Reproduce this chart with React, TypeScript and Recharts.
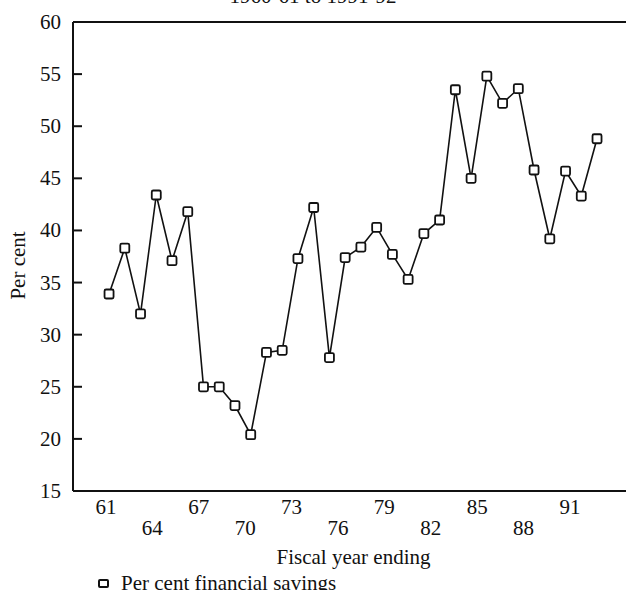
import { LineChart, Line, XAxis, YAxis, Legend, ReferenceLine } from 'recharts';

// fiscal years ending 1961..1992
const years = [
  61, 62, 63, 64, 65, 66, 67, 68, 69, 70, 71, 72, 73, 74, 75, 76,
  77, 78, 79, 80, 81, 82, 83, 84, 85, 86, 87, 88, 89, 90, 91, 92,
];
const savings = [
  33.9, 38.3, 32.0, 43.4, 37.1, 41.8, 25.0, 25.0, 23.2, 20.4, 28.3, 28.5, 37.3, 42.2, 27.8, 37.4,
  38.4, 40.3, 37.7, 35.3, 39.7, 41.0, 53.5, 45.0, 54.8, 52.2, 53.6, 45.8, 39.2, 45.7, 43.3, 48.8,
];
const yTicks = [15, 20, 25, 30, 35, 40, 45, 50, 55, 60];
const xLabelTicks = [61, 64, 67, 70, 73, 76, 79, 82, 85, 88, 91];

const seriesName = 'Per cent financial savings';
const xTitle = 'Fiscal year ending';
const yTitle = 'Per cent';
const chartTitle = '1960-61 to 1991-92';

const data = years.map((year, i) => ({ year, savings: savings[i] }));

const FONT = '"Liberation Serif", "Times New Roman", serif';
const FS = 21;
const INK = '#111';

function YTick({ x, y, payload }: any) {
  return (
    <g>
      <line x1={x + 12} x2={x + 21} y1={y} y2={y} stroke={INK} strokeWidth={2} />
      <text x={x} y={y} textAnchor="end" dominantBaseline="central" fontSize={FS} fontFamily={FONT} fill={INK}>
        {payload.value}
      </text>
    </g>
  );
}

function XTick({ x, y, payload }: any) {
  const row = xLabelTicks.indexOf(payload.value) % 2;
  return (
    <text x={x} y={y + 16 + row * 21} textAnchor="middle" dominantBaseline="central" fontSize={FS} fontFamily={FONT} fill={INK}>
      {payload.value}
    </text>
  );
}

function XTitle({ viewBox }: any) {
  return (
    <text x={viewBox.x + viewBox.width / 2 - 3} y={viewBox.y + 66} textAnchor="middle" dominantBaseline="central" fontSize={FS} fontFamily={FONT} fill={INK}>
      {xTitle}
    </text>
  );
}

function YTitle({ viewBox }: any) {
  const cx = viewBox.x + 18;
  const cy = viewBox.y + viewBox.height / 2 + 9;
  return (
    <text x={cx} y={cy} transform={`rotate(-90 ${cx} ${cy})`} textAnchor="middle" dominantBaseline="central" fontSize={FS} fontFamily={FONT} fill={INK}>
      {yTitle}
    </text>
  );
}

function SquareDot({ cx, cy, index }: any) {
  return <rect key={index} x={cx - 4.5} y={cy - 4.5} width={9} height={9} rx={1.5} fill="#fff" stroke={INK} strokeWidth={1.8} />;
}

function LegendBox() {
  return (
    <div style={{ display: 'flex', alignItems: 'center', fontFamily: FONT, fontSize: FS, color: INK, whiteSpace: 'nowrap' }}>
      <span style={{ display: 'inline-block', width: 7, height: 5, border: `2px solid ${INK}`, borderRadius: 2, marginRight: 12 }} />
      {seriesName}
    </div>
  );
}

export default function App() {
  return (
    <div style={{ position: 'absolute', left: 0, top: 0, width: 626, height: 590, overflow: 'hidden', background: '#fff' }}>
      <LineChart width={640} height={590} data={data} margin={{ top: 22, right: 0, bottom: 0, left: 0 }}>
        <text x={313} y={3} textAnchor="middle" fontSize={FS} fontFamily={FONT} fill={INK}>
          {chartTitle}
        </text>
        <XAxis xAxisId="data" dataKey="year" type="number" domain={[58.71, 94.73]} allowDataOverflow height={0} hide />
        <XAxis
          xAxisId="lab"
          dataKey="year"
          type="number"
          domain={[58.87, 95.53]}
          allowDataOverflow
          ticks={xLabelTicks}
          interval={0}
          tick={<XTick />}
          tickLine={false}
          tickSize={0}
          tickMargin={0}
          height={79}
          axisLine={{ stroke: INK, strokeWidth: 2 }}
          label={<XTitle />}
        />
        <YAxis
          domain={[15, 60]}
          ticks={yTicks}
          interval={0}
          width={73}
          tick={<YTick />}
          tickLine={false}
          tickSize={0}
          tickMargin={12}
          axisLine={{ stroke: INK, strokeWidth: 2 }}
          label={<YTitle />}
        />
        <ReferenceLine xAxisId="data" y={60} stroke={INK} strokeWidth={2} />
        <Legend
          verticalAlign="bottom"
          height={20}
          content={<LegendBox />}
          wrapperStyle={{ left: 98, top: 571, width: 'auto', bottom: 'auto' }}
        />
        <Line
          xAxisId="data"
          dataKey="savings"
          name={seriesName}
          stroke={INK}
          strokeWidth={1.6}
          dot={<SquareDot />}
          activeDot={false}
          isAnimationActive={false}
        />
      </LineChart>
    </div>
  );
}
